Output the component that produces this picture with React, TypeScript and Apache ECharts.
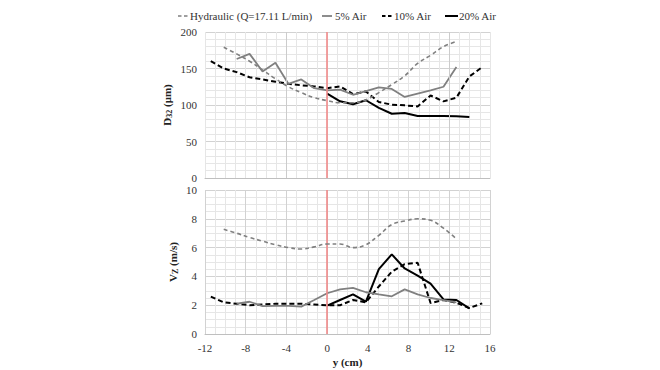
import React, { useEffect, useRef } from "react";
import * as echarts from "echarts";

const hydX = [-10.16, -8.89, -7.62, -6.35, -5.08, -3.81, -2.54, -1.27, 0, 1.27, 2.54, 3.81, 5.08, 6.35, 7.62, 8.89, 10.16, 11.43, 12.7];
const hydD32 = [179, 170, 160, 148, 136, 125, 117, 110, 106, 103, 103, 107, 117, 128, 140, 157, 168, 180, 187];
const hydVz = [7.27, 7.0, 6.7, 6.45, 6.2, 6.0, 5.9, 6.05, 6.25, 6.25, 6.0, 6.2, 6.85, 7.6, 7.85, 8.0, 7.9, 7.35, 6.6];

const air5X = [-8.89, -7.62, -6.35, -5.08, -3.81, -2.54, -1.27, 0, 1.27, 2.54, 3.81, 5.08, 6.35, 7.62, 8.89, 10.16, 11.43, 12.7];
const air5D32 = [163, 170, 146, 158, 129, 135, 123, 120, 121, 114, 119, 124, 122, 111, 115.5, 120, 125, 152];
const air5Vz = [2.1, 2.24, 1.94, 1.95, 1.95, 1.9, 2.36, 2.83, 3.1, 3.2, 2.9, 2.75, 2.62, 3.1, 2.75, 2.5, 2.36, 2.2];

const air10X = [-11.43, -10.16, -8.89, -7.62, -6.35, -5.08, -3.81, -2.54, -1.27, 0, 1.27, 2.54, 3.81, 5.08, 6.35, 7.62, 8.89, 10.16, 11.43, 12.7, 13.97, 15.24];
const air10D32 = [160, 150, 145, 138, 135, 132, 129, 127, 125.5, 123, 125.5, 115, 118.5, 104, 100.5, 99.5, 98, 113, 105, 110, 139, 152];
const air10Vz = [2.6, 2.2, 2.1, 2.0, 2.05, 2.1, 2.1, 2.1, 2.05, 2.0, 2.0, 2.36, 2.2, 3.3, 4.33, 4.85, 4.95, 2.15, 2.36, 2.17, 1.8, 2.13];

const air20X = [0, 1.27, 2.54, 3.81, 5.08, 6.35, 7.62, 8.89, 10.16, 11.43, 12.7, 13.97];
const air20D32 = [115.5, 105, 101, 106.5, 96, 88, 89, 85, 85, 85, 84.5, 83.5];
const air20Vz = [1.97, 2.36, 2.75, 2.24, 4.5, 5.53, 4.55, 4.05, 3.5, 2.4, 2.36, 1.78];

const seriesNames = ["Hydraulic (Q=17.11 L/min)", "5% Air", "10% Air", "20% Air"];
const xTicks = [-12, -8, -4, 0, 4, 8, 12, 16];

const FONT = "Liberation Serif";

const pairs = (xs: number[], ys: number[]) => xs.map((x, i) => [x, ys[i]]);

export default function App() {
  const ref = useRef<HTMLDivElement>(null);
  useEffect(() => {
    if (!ref.current) return;
    const chart = echarts.init(ref.current, undefined, { renderer: "svg" });
    const minorColor = "#e6e6e6";
    const majorColor = "#d2d2d2";
    const styles = [
      { color: "#808080", width: 1.6, type: [4, 3] as any },
      { color: "#808080", width: 1.8, type: "solid" as any },
      { color: "#000000", width: 2, type: [5, 3] as any },
      { color: "#000000", width: 2, type: "solid" as any },
    ];
    const xs = [hydX, air5X, air10X, air20X];
    const tops = [hydD32, air5D32, air10D32, air20D32];
    const bots = [hydVz, air5Vz, air10Vz, air20Vz];

    const redLine = (extra: number[] = [], extraColor = majorColor) => ({
      silent: true,
      symbol: "none",
      label: { show: false },
      data: [
        { xAxis: 0, lineStyle: { color: "#f08a8a", width: 1.6, type: "solid" } },
        ...extra.map((v) => ({ xAxis: v, lineStyle: { color: extraColor, width: 1, type: "solid" } })),
      ],
    });

    const series: any[] = [];
    for (let i = 0; i < 4; i++) {
      series.push({
        name: seriesNames[i],
        type: "line",
        xAxisIndex: 0,
        yAxisIndex: 0,
        data: pairs(xs[i], tops[i]),
        symbol: "none",
        smooth: i === 0 ? 0.4 : false,
        lineStyle: styles[i],
        itemStyle: { color: styles[i].color },
        z: 5 - i,
        markLine: i === 0 ? redLine([-4, 12], "#cccccc") : undefined,
      });
    }
    for (let i = 0; i < 4; i++) {
      series.push({
        name: seriesNames[i],
        type: "line",
        xAxisIndex: 1,
        yAxisIndex: 1,
        data: pairs(xs[i], bots[i]),
        symbol: "none",
        smooth: i === 0 ? 0.4 : false,
        lineStyle: styles[i],
        itemStyle: { color: styles[i].color },
        z: 5 - i,
        markLine: i === 0 ? redLine() : undefined,
      });
    }

    // legend drawn as graphic (line samples + text)
    const legendPos = [
      { x1: 178, x2: 188, tx: 190 },
      { x1: 322, x2: 332, tx: 335 },
      { x1: 382, x2: 393, tx: 394 },
      { x1: 445, x2: 458, tx: 459 },
    ];
    const legendY = 16;
    const graphic: any[] = [];
    legendPos.forEach((p, i) => {
      const st = styles[i];
      graphic.push({
        type: "line",
        shape: { x1: p.x1, y1: legendY, x2: p.x2, y2: legendY },
        style: {
          stroke: st.color,
          lineWidth: st.width,
          lineDash: Array.isArray(st.type) ? [3.5, 2.5] : null,
        },
        silent: true,
      });
      graphic.push({
        type: "text",
        x: p.tx,
        y: legendY,
        style: {
          text: seriesNames[i],
          fill: "#333",
          font: `11px '${FONT}'`,
          fontFamily: FONT,
          fontSize: 11,
          verticalAlign: "middle",
          align: "left",
        },
        silent: true,
      });
    });

    const xAxisBase = (gridIndex: number, showLabels: boolean) => ({
      type: "value",
      gridIndex,
      min: -12,
      max: 16,
      interval: 4,
      axisLine: { show: true, onZero: false, lineStyle: { color: "#bfbfbf", width: 1 } },
      axisTick: { show: false },
      axisLabel: showLabels
        ? {
            show: true,
            fontFamily: FONT,
            fontSize: 11,
            color: "#333",
            margin: 8,
            formatter: (v: number) => (xTicks.includes(v) ? String(v) : ""),
          }
        : { show: false },
      splitLine: { show: true, lineStyle: { color: gridIndex === 0 ? minorColor : majorColor, width: 1 } },
      minorTick: { show: false, splitNumber: 4 },
      minorSplitLine: { show: true, lineStyle: { color: minorColor, width: 1 } },
      name: showLabels ? "y (cm)" : "",
      nameLocation: "middle",
      nameGap: 22,
      nameTextStyle: { fontFamily: FONT, fontSize: 11, fontWeight: "bold", color: "#222" },
    });

    const yName = (gap: number) => ({
      nameLocation: "middle",
      nameGap: gap,
      nameRotate: 90,
      nameTextStyle: {
        fontFamily: FONT,
        fontSize: 11,
        fontWeight: "bold",
        color: "#222",
        rich: { sub: { fontFamily: FONT, fontSize: 8, fontWeight: "bold", verticalAlign: "bottom", padding: [4, 0, 0, 0] } },
      },
    });

    const option: any = {
      animation: false,
      backgroundColor: "#ffffff",
      textStyle: { fontFamily: FONT },
      graphic,
      grid: [
        { left: 205, right: 170, top: 32, height: 146 },
        { left: 205, right: 170, top: 190, height: 144 },
      ],
      xAxis: [xAxisBase(0, false), xAxisBase(1, true)],
      yAxis: [
        {
          type: "value",
          gridIndex: 0,
          min: 0,
          max: 200,
          interval: 50,
          axisLine: { show: false },
          axisTick: { show: false },
          axisLabel: { fontFamily: FONT, fontSize: 11, color: "#333", margin: 8 },
          splitLine: { show: true, lineStyle: { color: majorColor } },
          minorTick: { show: false, splitNumber: 5 },
          minorSplitLine: { show: true, lineStyle: { color: minorColor } },
          name: "D{sub|32} (μm)",
          ...yName(32),
        },
        {
          type: "value",
          gridIndex: 1,
          min: 0,
          max: 10,
          interval: 2,
          axisLine: { show: false },
          axisTick: { show: false },
          axisLabel: { fontFamily: FONT, fontSize: 11, color: "#333", margin: 8 },
          splitLine: { show: true, lineStyle: { color: majorColor } },
          minorTick: { show: false, splitNumber: 4 },
          minorSplitLine: { show: true, lineStyle: { color: minorColor } },
          name: "V{sub|Z} (m/s)",
          ...yName(26),
        },
      ],
      series,
    };
    chart.setOption(option);
    return () => chart.dispose();
  }, []);
  return (
    <div
      ref={ref}
      style={{ position: "fixed", left: 0, top: 0, width: 660, height: 370, background: "#fff" }}
    />
  );
}
